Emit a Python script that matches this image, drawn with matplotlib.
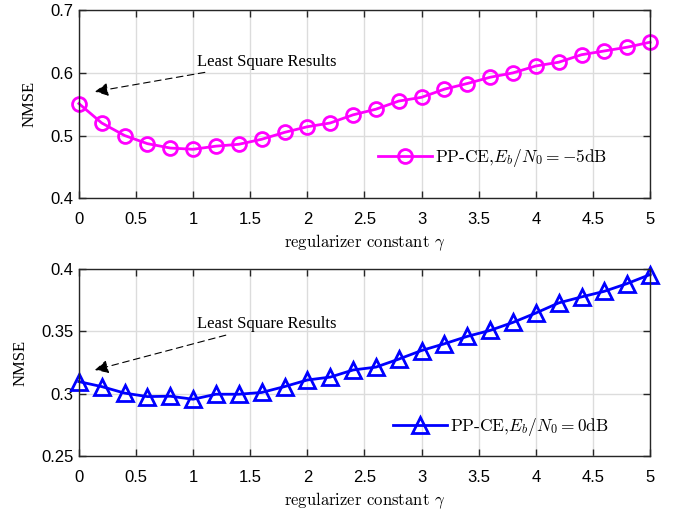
import numpy as np
import matplotlib
matplotlib.use('Agg')
import matplotlib.pyplot as plt

# regularizer constant gamma (0 .. 5, step 0.2)
gamma = [0.0, 0.2, 0.4, 0.6, 0.8, 1.0, 1.2, 1.4, 1.6, 1.8, 2.0, 2.2, 2.4,
         2.6, 2.8, 3.0, 3.2, 3.4, 3.6, 3.8, 4.0, 4.2, 4.4, 4.6, 4.8, 5.0]

# NMSE at Eb/N0 = -5 dB
nmse_m5 = [0.551, 0.520, 0.500, 0.487, 0.480, 0.478, 0.483, 0.486, 0.494,
           0.505, 0.514, 0.520, 0.533, 0.542, 0.555, 0.561, 0.574, 0.583,
           0.593, 0.600, 0.611, 0.617, 0.629, 0.635, 0.641, 0.649]

# NMSE at Eb/N0 = 0 dB
nmse_0 = [0.3097, 0.3057, 0.3005, 0.2977, 0.2980, 0.2956, 0.2996, 0.2996,
          0.3010, 0.3057, 0.3110, 0.3133, 0.3190, 0.3213, 0.3277, 0.3346,
          0.3400, 0.3459, 0.3507, 0.3571, 0.3646, 0.3727, 0.3775, 0.3820,
          0.3882, 0.3954]

xticks = [0, 0.5, 1, 1.5, 2, 2.5, 3, 3.5, 4, 4.5, 5]
xticklabels = ['0', '0.5', '1', '1.5', '2', '2.5', '3', '3.5', '4', '4.5', '5']
yticks_top = [0.4, 0.5, 0.6, 0.7]
yticks_bot = [0.25, 0.3, 0.35, 0.4]

plt.rcParams['mathtext.fontset'] = 'cm'
plt.rcParams['axes.formatter.use_mathtext'] = False
serif = 'Liberation Serif'
sans = 'Liberation Sans'
cm = 'cmr10'

fig = plt.figure(figsize=(6.8, 5.12), dpi=100)
ax1 = fig.add_axes([0.116, 0.613, 0.840, 0.367])
ax2 = fig.add_axes([0.116, 0.109, 0.840, 0.366])


def style_axes(ax, yticks, ylim):
    ax.set_xlim(0, 5)
    ax.set_ylim(*ylim)
    ax.set_xticks(xticks)
    ax.set_xticklabels(xticklabels, fontfamily=sans, fontsize=12)
    ax.set_yticks(yticks)
    ax.set_yticklabels([f'{v:g}' for v in yticks], fontfamily=sans, fontsize=12)
    ax.grid(True, color='#dcdcdc', linewidth=1.0)
    ax.set_axisbelow(True)
    ax.tick_params(direction='in', top=True, right=True, length=5,
                   width=1.0, color='#262626')
    ax.tick_params(axis='x', pad=10)
    ax.tick_params(axis='y', pad=4)
    for sp in ax.spines.values():
        sp.set_color('#262626')
        sp.set_linewidth(1.0)
    ax.set_xlabel(r'regularizer constant $\gamma$', fontfamily=cm, fontsize=12,
                  labelpad=4)
    ax.set_ylabel('NMSE', fontfamily=serif, fontsize=12, labelpad=9)


arrow = dict(arrowstyle='-|>', linestyle=(0, (6, 4)), color='black',
             linewidth=0.8, mutation_scale=20, shrinkA=0, shrinkB=0)

ax1.plot(gamma, nmse_m5, '-o', color='#ff00ff', linewidth=2, markersize=10,
         markerfacecolor='none', markeredgewidth=2,
         label=r'PP-CE,$E_b/N_0=-5$dB', clip_on=False)
style_axes(ax1, yticks_top, (0.4, 0.7))
ax1.annotate('Least Square Results', xy=(0.14, 0.57), xytext=(1.03, 0.618),
             fontfamily=serif, fontsize=12, va='center', ha='left', arrowprops=arrow)
ax1.legend(loc='center left', bbox_to_anchor=(0.524, 0.213), frameon=False,
           prop={'family': cm, 'size': 12.5}, borderpad=0, borderaxespad=0,
           handlelength=3.1, handletextpad=0.2)

ax2.plot(gamma, nmse_0, '-^', color='#0000ff', linewidth=2, markersize=11,
         markerfacecolor='none', markeredgewidth=2,
         label=r'PP-CE,$E_b/N_0=0$dB', clip_on=False)
style_axes(ax2, yticks_bot, (0.25, 0.4))
ax2.annotate('Least Square Results', xy=(0.14, 0.319), xytext=(1.03, 0.3555),
             fontfamily=serif, fontsize=12, va='center', ha='left', arrowprops=arrow)
ax2.legend(loc='center left', bbox_to_anchor=(0.55, 0.155), frameon=False,
           prop={'family': cm, 'size': 12.5}, borderpad=0, borderaxespad=0,
           handlelength=3.1, handletextpad=0.2)

fig.savefig('out.png', dpi=100)
